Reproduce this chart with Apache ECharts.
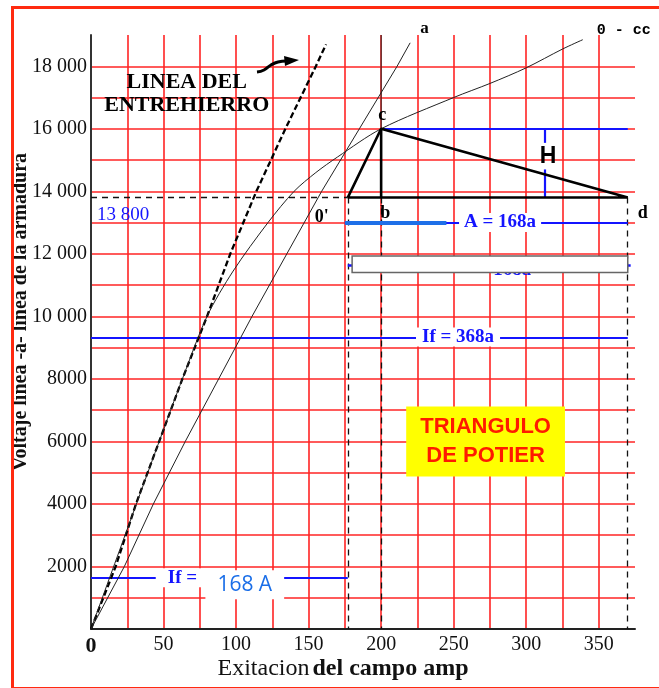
<!DOCTYPE html>
<html><head><meta charset="utf-8">
<script src="https://cdn.jsdelivr.net/npm/echarts@6/dist/echarts.min.js"></script>
<style>html,body{margin:0;padding:0;background:#fff}#c{width:659px;height:688px}</style>
</head><body><div id="c"></div>
<script>
// ---------- data (amps, volts) ----------
const xTickLabels = ['0','50','100','150','200','250','300','350'];
const yTickLabels = ['2000','4000','6000','8000','10 000','12 000','14 000','16 000','18 000'];

const airGapLine = [[0,0],[17,2000],[31,4000],[47,6000],[63,8000],[80,10000],[96,12000],[114,14000],[134,16000],[155,18000],[162,18700]];
const lineA = [[0,0],[23,2000],[43,4000],[65,6000],[88,8000],[111,10000],[135,12000],[159,14000],[185,16000],[211,18000],[220,18750]];
const occCurve = [[0,0],[47,6000],[63,8000],[80,10000],[98,11450],[122,13000],[140,14000],[155,14600],[170,15100],[200,16000],[250,17000],[275,17450],[300,17950],[325,18550],[339,18850]];

const pointO = [177,13800];
const pointC = [200,16000];
const pointB = [200,13800];
const pointD = [370,13800];
const topOfAxis = 19000;

const dashedX = [177,200,370];          // vertical dashed guides down to 0
const dashedLevel = 13800;              // horizontal dashed guide

// blue dimension lines: [xFrom, xTo, level]
const blueLines = [[200,370,16000],[175,370,13000],[0,370,9310],[0,177,1640]];
const blueHidden = [177,372,11630];
const thickBlue = [175,245,13000];
const hDim = [[313,16000,15550],[313,14700,13800]];
const whiteBox = [[180,11930,370,11400]];

const noteText = ['c','b','d',"0'",'13 800','H','A = 168a','If = 368a','If =','168 A','LINEA DEL\nENTREHIERRO','TRIANGULO\nDE POTIER'];
const notePos  = [[200,16000],[200,13800],[370,13800],[177,13800],[0,13800],[315,15100],[282,13000],[253,9310],[63,1640],[106,1640],[66,17130],[272,6000]];
const hiddenNote = ['= 168a', [285,11630]];

// ---------- styles ----------
const SERIF = 'Liberation Serif';
const BLUE = '#1414ff';
const noteStyles = [
  {fontFamily:SERIF,fontWeight:'bold',fontSize:18,color:'#000',offset:[1,-13]},
  {fontFamily:SERIF,fontWeight:'bold',fontSize:18,color:'#000',offset:[4,16]},
  {fontFamily:SERIF,fontWeight:'bold',fontSize:18,color:'#000',offset:[15,16]},
  {fontFamily:SERIF,fontWeight:'bold',fontSize:18,color:'#000',offset:[-26,20]},
  {fontFamily:SERIF,fontSize:19,color:BLUE,offset:[32,17]},
  {fontFamily:'Liberation Sans',fontWeight:'bold',fontSize:23,color:'#000',offset:[0,0]},
  {fontFamily:SERIF,fontWeight:'bold',fontSize:19,color:BLUE,backgroundColor:'#fff',padding:[0,5,0,5],offset:[0,0]},
  {fontFamily:SERIF,fontWeight:'bold',fontSize:19,color:BLUE,backgroundColor:'#fff',padding:[0,6,0,6],offset:[0,-1]},
  {fontFamily:SERIF,fontWeight:'bold',fontSize:19,color:BLUE,backgroundColor:'#fff',padding:[0,12,0,12],offset:[0,0]},
  {fontFamily:'Open Sans',fontSize:21,color:'#1a6ee8',backgroundColor:'#fff',padding:[4,12,4,12],offset:[0,7]},
  {fontFamily:SERIF,fontWeight:'bold',fontSize:22,color:'#000',lineHeight:23,align:'center',offset:[0,0]},
  {fontFamily:'Liberation Sans',fontWeight:'bold',fontSize:22,color:'#ff1a00',lineHeight:29,align:'center',backgroundColor:'#ffff00',padding:[6,14,6,14],offset:[0,0]}
];

function seg(a,b){return [{coord:a},{coord:b}];}

const chart = echarts.init(document.getElementById('c'), null, {renderer:'canvas'});

const series = [];
series.push({type:'line',data:airGapLine,symbol:'none',z:5,
  lineStyle:{color:'#000',width:2.3,type:[6,3]}});
series.push({type:'line',data:lineA,symbol:'none',z:5,
  lineStyle:{color:'#222',width:1},
  endLabel:{show:true,formatter:'a',fontFamily:SERIF,fontWeight:'bold',fontSize:17,color:'#000',offset:[2,-14]}});
series.push({type:'line',data:occCurve,symbol:'none',smooth:0.3,z:5,
  lineStyle:{color:'#222',width:1},
  endLabel:{show:true,formatter:'0 - cc',fontFamily:'Liberation Mono',fontWeight:'bold',fontSize:15,color:'#000',offset:[6,-9]}});
series.push({type:'line',data:[pointO,pointC,pointD,pointO],symbol:'none',z:6,
  lineStyle:{color:'#000',width:2.6}});
series.push({type:'line',data:[pointC,pointB],symbol:'none',z:6,
  lineStyle:{color:'#000',width:2.6}});
series.push({type:'line',data:[pointC,[pointC[0],topOfAxis]],symbol:'none',z:5,
  lineStyle:{color:'#222',width:1}});
series.push({type:'line',data:[],symbol:'none',z:4,
  markLine:{silent:true,symbol:'none',label:{show:false},
    lineStyle:{color:'#111',width:1.3,type:[6,5]},
    data:dashedX.map(x=>seg([x,dashedLevel],[x,0])).concat([seg([0,dashedLevel],[pointO[0],dashedLevel])])}});
series.push({type:'line',data:[],symbol:'none',z:3,
  markLine:{silent:true,symbol:'none',label:{show:false},
    lineStyle:{color:BLUE,width:2.5,type:'solid'},
    data:[seg([blueHidden[0],blueHidden[2]],[blueHidden[1],blueHidden[2]])]}});
series.push({type:'scatter',z:3,symbolSize:1,itemStyle:{color:'rgba(0,0,0,0)',opacity:1},
  data:[{value:hiddenNote[1],label:{show:true,position:'inside',formatter:hiddenNote[0],
    fontFamily:SERIF,fontWeight:'bold',fontSize:19,color:BLUE,offset:[0,5]}}]});
series.push({type:'custom',z:20,silent:true,data:whiteBox,
  renderItem:function(params,api){
    const p0 = api.coord([api.value(0),api.value(1)]);
    const p1 = api.coord([api.value(2),api.value(3)]);
    return {type:'rect',z2:100,shape:{x:p0[0],y:p0[1],width:p1[0]-p0[0],height:p1[1]-p0[1]},
      style:{fill:'#ffffff',stroke:'#666',lineWidth:1.5}};
  }});
series.push({type:'line',data:[],symbol:'none',z:7,
  markLine:{silent:true,symbol:'none',label:{show:false},
    lineStyle:{color:BLUE,width:2.2,type:'solid'},
    data:blueLines.map(l=>seg([l[0],l[2]],[l[1],l[2]]))
      .concat(hDim.map(h=>seg([h[0],h[1]],[h[0],h[2]])))}});
series.push({type:'line',data:[],symbol:'none',z:7,
  markLine:{silent:true,symbol:'none',label:{show:false},
    lineStyle:{color:'#1e6fe8',width:4,type:'solid'},
    data:[seg([thickBlue[0],thickBlue[2]],[thickBlue[1],thickBlue[2]])]}});
series.push({type:'scatter',z:30,symbolSize:1,itemStyle:{color:'rgba(0,0,0,0)',opacity:1},
  data:noteText.map((t,i)=>({value:notePos[i],
    label:Object.assign({show:true,position:'inside',formatter:t,opacity:1},noteStyles[i])}))});

chart.setOption({
  animation:false,
  backgroundColor:'#fff',
  textStyle:{fontFamily:SERIF},
  grid:{left:91,right:24,top:35,bottom:59,containLabel:false,outerBoundsMode:'none'},
  xAxis:{type:'value',min:0,max:375,interval:25,
    name:'{n|Exitacion} {b|del campo amp}',nameLocation:'middle',nameGap:28,nameMoveOverlap:false,
    nameTextStyle:{padding:[0,40,0,0],rich:{
      n:{fontFamily:SERIF,fontSize:24,color:'#111'},
      b:{fontFamily:SERIF,fontSize:24,fontWeight:'bold',color:'#111'}}},
    axisLine:{lineStyle:{color:'#222',width:2}},
    axisTick:{show:false},
    axisLabel:{margin:6,fontFamily:SERIF,fontSize:20,color:'#111',
      formatter:v=>(v===0?'{z|0}':(v%50===0?xTickLabels[v/50]:'')),
      rich:{z:{fontFamily:SERIF,fontSize:22,fontWeight:'bold',color:'#111'}}},
    splitLine:{show:true,showMinLine:false,showMaxLine:false,lineStyle:{color:'#ff2424',width:1.6}}},
  yAxis:{type:'value',min:0,max:topOfAxis,interval:1000,
    name:'Voltaje línea -a- línea de la armadura',nameLocation:'middle',nameGap:60,nameMoveOverlap:false,
    nameTextStyle:{fontFamily:SERIF,fontWeight:'bold',fontSize:20,color:'#111',padding:[0,0,0,40]},
    axisLine:{lineStyle:{color:'#333',width:2}},
    axisTick:{show:false},
    axisLabel:{margin:4,fontFamily:SERIF,fontSize:20,color:'#111',
      formatter:v=>(v>0&&v%2000===0?yTickLabels[v/2000-1]:'')},
    splitLine:{show:true,showMinLine:false,showMaxLine:false,lineStyle:{color:'#ff2424',width:1.6}}},
  graphic:[
    {type:'rect',left:10,top:5,shape:{width:700,height:681},z:100,silent:true,
      style:{fill:'none',stroke:'#ff2a10',lineWidth:3}},
    {type:'polyline',z:20,silent:true,shape:{points:[[257,72],[264,70],[271,65],[278,62],[287,61]],smooth:0.5},
      style:{stroke:'#000',lineWidth:3,fill:'none'}},
    {type:'polygon',z:20,silent:true,shape:{points:[[284,56],[299,60],[285,66]]},
      style:{fill:'#000'}}
  ],
  series:series
});
</script></body></html>
